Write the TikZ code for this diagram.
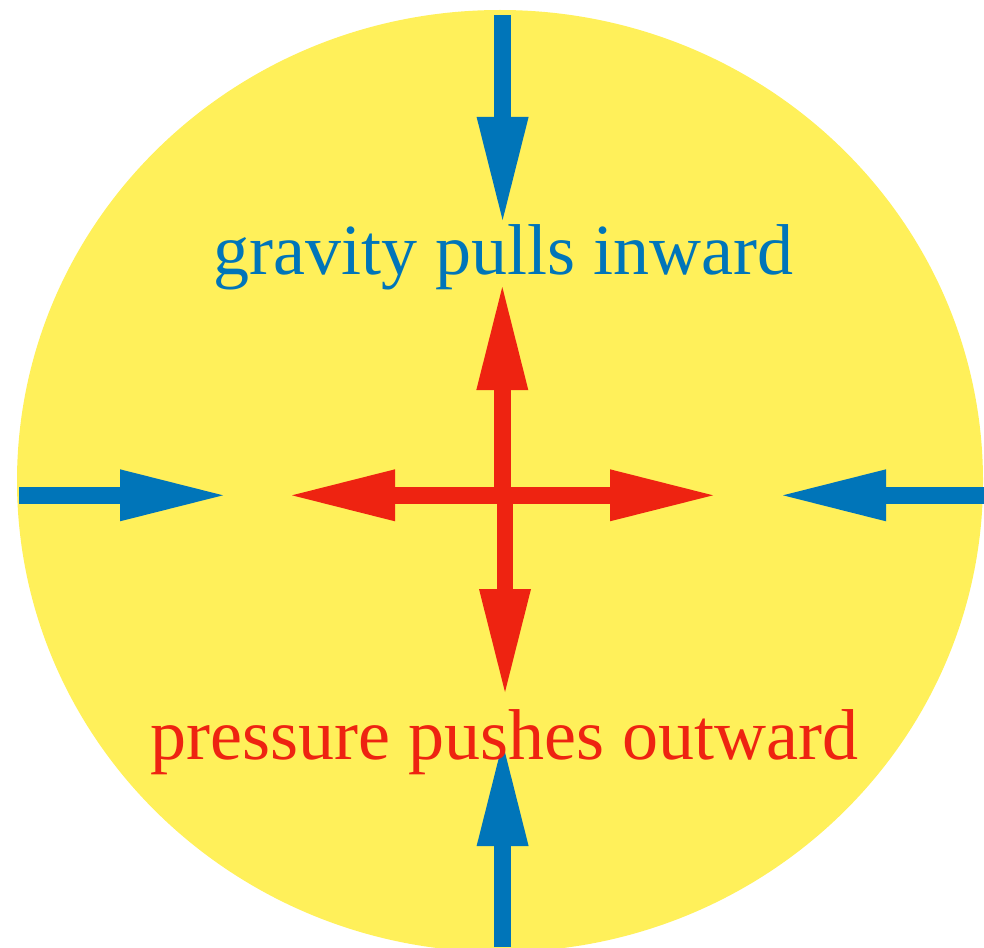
\documentclass[tikz,border=0pt]{standalone}
\usepackage{fontspec}
\setmainfont{Liberation Serif}
\usetikzlibrary{arrows.meta}
\definecolor{sunyellow}{RGB}{255,240,90}
\definecolor{gravblue}{RGB}{0,117,185}
\definecolor{pressred}{RGB}{238,35,17}
\begin{document}
\begin{tikzpicture}[x=1pt,y=-1pt,
  force/.style={line width=16.5pt,
    -{Triangle[length=103pt,width=52pt,line width=0pt]}},
  gravarrow/.style={force, draw=gravblue},
  pressarrow/.style={force, draw=pressred},
  label/.style={anchor=base, inner sep=0pt, font=\fontsize{72}{86}\selectfont}]
\useasboundingbox (0,0) rectangle (984,947);
\fill[sunyellow] (500,481) ellipse [x radius=483, y radius=471];

% blue gravity arrows (outer ends and tips)
\coordinate (gTopS) at (502.6,15);
\coordinate (gTopE) at (502.6,220);
\coordinate (gBotS) at (502.6,947);
\coordinate (gBotE) at (502.6,743);
\coordinate (gLeftS) at (19,495.3);
\coordinate (gLeftE) at (223,495.3);
\coordinate (gRightS) at (984,495.3);
\coordinate (gRightE) at (783,495.3);
\draw[gravarrow] (gTopS) -- (gTopE);
\draw[gravarrow] (gBotS) -- (gBotE);
\draw[gravarrow] (gLeftS) -- (gLeftE);
\draw[gravarrow] (gRightS) -- (gRightE);

% red pressure arrows from the centre
\coordinate (cUp) at (502.3,503);
\coordinate (cDown) at (505,488);
\coordinate (cH) at (502.3,495.3);
\coordinate (pUp) at (502.3,287);
\coordinate (pDown) at (505,692);
\coordinate (pLeft) at (292,495.3);
\coordinate (pRight) at (713,495.3);
\draw[pressarrow] (cUp) -- (pUp);
\draw[pressarrow] (cDown) -- (pDown);
\draw[pressarrow] (cH) -- (pLeft);
\draw[pressarrow] (cH) -- (pRight);

\node[label, text=gravblue] (gravtext) at (503.5,274) {gravity pulls inward};
\node[label, text=pressred] (presstext) at (504.5,759) {pressure pushes outward};
\end{tikzpicture}
\end{document}
